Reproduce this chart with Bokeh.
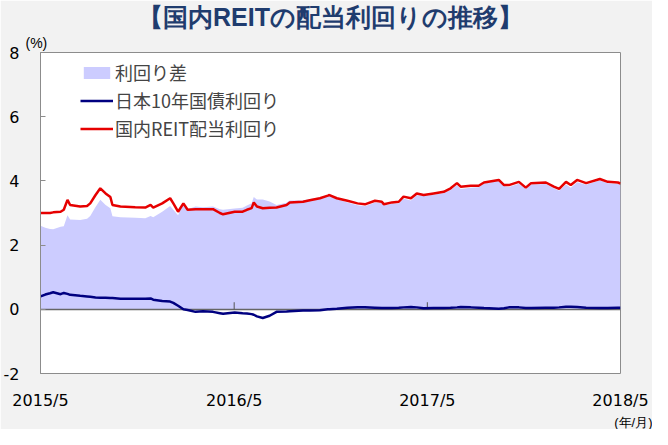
import pandas as pd
from bokeh.plotting import figure
from bokeh.models import (ColumnDataSource, Range1d, FixedTicker, CustomJSTickFormatter,
                          Title, Legend, LegendItem)
from bokeh.embed import file_html
from bokeh.resources import INLINE

# ---------------- data ----------------
dates = [
    "2015-05-01", "2015-05-10", "2015-05-19", "2015-05-25", "2015-06-08", "2015-06-14",
    "2015-06-21", "2015-06-26", "2015-07-15", "2015-07-28", "2015-08-03", "2015-08-13",
    "2015-08-22", "2015-09-01", "2015-09-10", "2015-09-14", "2015-09-29", "2015-10-27",
    "2015-11-15", "2015-11-25", "2015-11-30", "2015-12-17", "2016-01-01", "2016-01-07",
    "2016-01-16", "2016-01-26", "2016-02-03", "2016-02-18", "2016-03-03", "2016-03-22",
    "2016-04-04", "2016-04-10", "2016-05-02", "2016-05-17", "2016-05-25", "2016-06-03",
    "2016-06-07", "2016-06-13", "2016-06-24", "2016-07-07", "2016-07-20", "2016-08-08",
    "2016-08-14", "2016-09-08", "2016-09-21", "2016-10-10", "2016-10-25", "2016-10-28",
    "2016-11-11", "2016-12-01", "2016-12-20", "2017-01-03", "2017-01-22", "2017-02-04",
    "2017-02-08", "2017-02-23", "2017-03-08", "2017-03-17", "2017-03-31", "2017-04-11",
    "2017-04-24", "2017-05-13", "2017-06-01", "2017-06-14", "2017-06-26", "2017-07-03",
    "2017-07-22", "2017-08-06", "2017-08-16", "2017-09-13", "2017-09-23", "2017-10-02",
    "2017-10-21", "2017-11-03", "2017-11-13", "2017-12-11", "2017-12-26", "2018-01-05",
    "2018-01-18", "2018-01-27", "2018-02-08", "2018-02-25", "2018-03-23", "2018-04-07",
    "2018-04-26", "2018-05-01",
]
reit_yield = [
    3.00, 3.00, 3.00, 3.02, 3.04, 3.10,
    3.41, 3.25, 3.20, 3.22, 3.30, 3.56,
    3.77, 3.61, 3.50, 3.25, 3.20, 3.18,
    3.17, 3.25, 3.17, 3.30, 3.46, 3.30,
    3.04, 3.30, 3.10, 3.12, 3.12, 3.12,
    3.00, 2.96, 3.04, 3.04, 3.10, 3.15,
    3.33, 3.20, 3.15, 3.16, 3.17, 3.25,
    3.33, 3.35, 3.40, 3.46, 3.54, 3.56,
    3.46, 3.38, 3.30, 3.27, 3.38, 3.35,
    3.27, 3.33, 3.35, 3.51, 3.46, 3.61,
    3.56, 3.61, 3.66, 3.77, 3.93, 3.82,
    3.85, 3.85, 3.95, 4.03, 3.87, 3.87,
    3.97, 3.79, 3.93, 3.95, 3.82, 3.75,
    3.97, 3.87, 4.03, 3.93, 4.06, 3.97,
    3.95, 3.92,
]
jgb_yield = [
    0.40, 0.46, 0.50, 0.53, 0.47, 0.51,
    0.48, 0.45, 0.42, 0.40, 0.39, 0.37,
    0.36, 0.36, 0.35, 0.35, 0.33, 0.33,
    0.33, 0.34, 0.30, 0.26, 0.24, 0.20,
    0.11, 0.00, -0.02, -0.08, -0.06, -0.08,
    -0.12, -0.14, -0.10, -0.12, -0.13, -0.15,
    -0.17, -0.22, -0.27, -0.20, -0.08, -0.07,
    -0.06, -0.04, -0.04, -0.03, 0.00, 0.00,
    0.02, 0.05, 0.06, 0.06, 0.05, 0.04,
    0.04, 0.04, 0.05, 0.06, 0.07, 0.06,
    0.03, 0.04, 0.04, 0.05, 0.06, 0.07,
    0.06, 0.05, 0.04, 0.02, 0.03, 0.06,
    0.06, 0.04, 0.04, 0.05, 0.05, 0.06,
    0.08, 0.08, 0.07, 0.05, 0.04, 0.04,
    0.05, 0.05,
]
y_ticks = [-2, 0, 2, 4, 6, 8]
x_tick_dates = ["2015-05-01", "2016-05-01", "2017-05-01", "2018-05-01"]
series_names = ["利回り差", "日本10年国債利回り", "国内REIT配当利回り"]
title_text = "【国内REITの配当利回りの推移】"
y_unit = "(%)"
x_unit = "(年/月)"

# ---------------- build ----------------
CJK = "Noto Sans CJK JP"
LAT = "Liberation Sans"
NUM = "DejaVu Sans"
dt = pd.to_datetime(dates)
spread = [r - j for r, j in zip(reit_yield, jgb_yield)]
src = ColumnDataSource(dict(date=dt, reit=reit_yield, jgb=jgb_yield, spread=spread))

tick_dt = pd.to_datetime(x_tick_dates)
tick_ms = [float(t.value // 10**6) for t in tick_dt]

p = figure(width=652, height=429, x_axis_type="datetime",
           x_range=Range1d(tick_dt[0], tick_dt[-1]), y_range=Range1d(y_ticks[0], y_ticks[-1]),
           output_backend="svg", toolbar_location=None,
           min_border_left=37, min_border_right=32, min_border_top=52, min_border_bottom=55,
           background_fill_color="white", border_fill_color="#f2f2f2",
           outline_line_color="#8c8c8c", outline_line_width=1)
p.xgrid.visible = False
p.ygrid.visible = False

r_area = p.varea(x="date", y1=0, y2="spread", source=src, fill_color="#ccccff", fill_alpha=1.0)
r_edge = p.quad(left=[], right=[], top=[], bottom=[], fill_alpha=0, line_color="#b0b0f0", line_width=1)
p.hspan(y=[0], line_color="#666666", line_width=1.5)
inner_ticks = ColumnDataSource(dict(x=list(tick_dt[1:-1]), y0=[0] * 2, y1=[0.22] * 2))
p.segment(x0="x", x1="x", y0="y0", y1="y1", source=inner_ticks, line_color="#555555", line_width=1)
r_jgb = p.line(x="date", y="jgb", source=src, line_color="#000080", line_width=2.5)
r_reit = p.line(x="date", y="reit", source=src, line_color="#e60000", line_width=2.5)

# axes
p.yaxis.ticker = FixedTicker(ticks=y_ticks)
p.yaxis.formatter = CustomJSTickFormatter(code="return tick.toString();")
p.yaxis.axis_line_color = "#8c8c8c"
p.yaxis.major_tick_in = 5
p.yaxis.major_tick_out = 0
p.yaxis.major_tick_line_color = "#8c8c8c"
p.yaxis.minor_tick_line_color = None
p.yaxis.major_label_standoff = 21
p.yaxis.major_label_text_font = NUM
p.yaxis.major_label_text_font_size = "16px"
p.yaxis.major_label_text_color = "#000000"

p.xaxis.ticker = FixedTicker(ticks=tick_ms)
p.xaxis.formatter = CustomJSTickFormatter(code="""
const d = new Date(tick);
return d.getUTCFullYear() + "/" + (d.getUTCMonth() + 1);
""")
p.xaxis.axis_line_color = None
p.xaxis.major_tick_in = 0
p.xaxis.major_tick_out = 0
p.xaxis.minor_tick_line_color = None
p.xaxis.major_label_standoff = 17
p.xaxis.major_label_text_font = NUM
p.xaxis.major_label_text_font_size = "16px"
p.xaxis.major_label_text_color = "#000000"

# legend
legend = Legend(items=[
    LegendItem(label=series_names[0], renderers=[r_area, r_edge]),
    LegendItem(label=series_names[1], renderers=[r_jgb]),
    LegendItem(label=series_names[2], renderers=[r_reit]),
], location=(40, 232))
legend.margin = 0
legend.padding = 0
legend.spacing = 2
legend.glyph_width = 33
legend.glyph_height = 15
legend.label_height = 15
legend.label_standoff = 2
legend.label_text_font = CJK
legend.label_text_font_size = "18px"
legend.background_fill_alpha = 0
legend.border_line_alpha = 0
p.add_layout(legend)

# titles / unit texts in side panels
p.title.text = title_text
p.title.align = "center"
p.title.text_font = LAT
p.title.text_font_size = "25px"
p.title.text_font_style = "bold"
p.title.text_color = "#1f3c6e"
p.title.standoff = 0

p.add_layout(Title(text=y_unit, align="left", offset=-15, text_font=LAT,
                   text_font_size="14px", text_font_style="normal", text_color="#000000",
                   standoff=4), "above")
p.add_layout(Title(text=x_unit, align="right", offset=-32, text_font=LAT,
                   text_font_size="13px", text_font_style="normal", text_color="#000000",
                   standoff=0), "below")

open("out.html", "w").write(file_html(p, INLINE))
